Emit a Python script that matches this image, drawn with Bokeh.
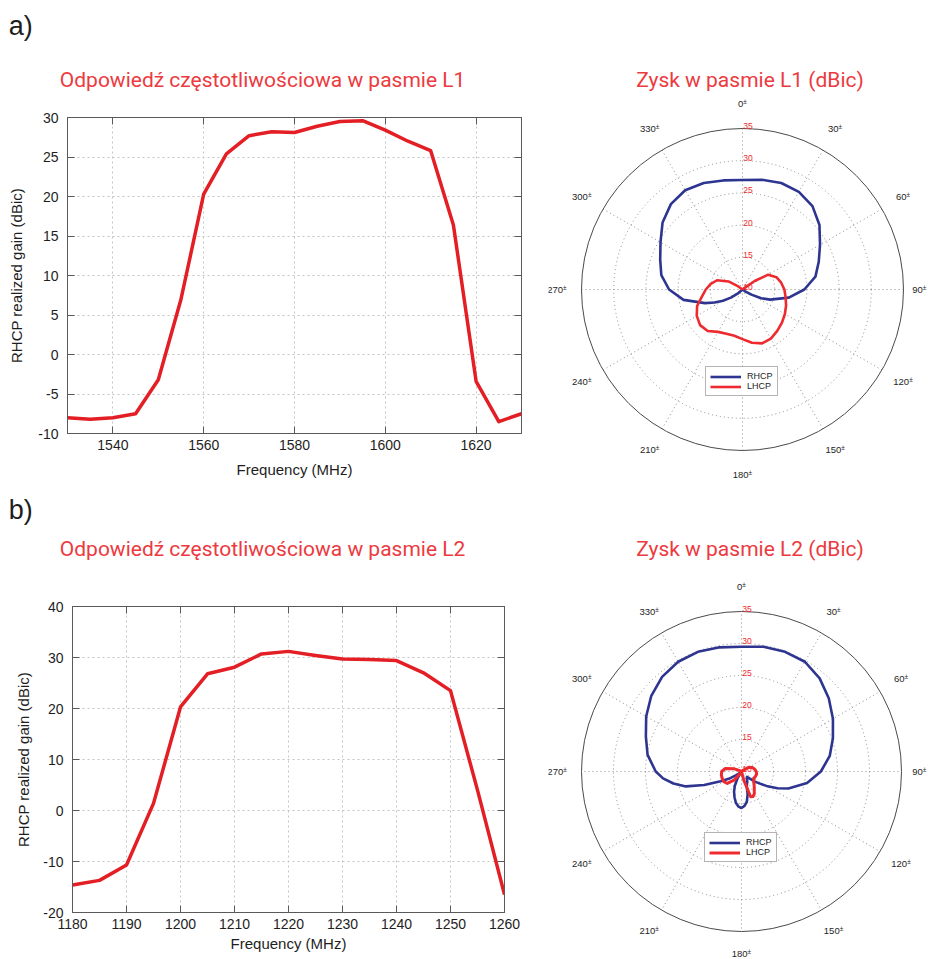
import numpy as np
from bokeh.plotting import figure
from bokeh.layouts import column, row
from bokeh.models import Range1d, LinearAxis, FixedTicker, Legend, LegendItem
from bokeh.embed import file_html
from bokeh.resources import INLINE
from bokeh.core.properties import value

# ---------------- data ----------------
L1_FREQ = [1530, 1535, 1540, 1545, 1550, 1555, 1560, 1565, 1570, 1575, 1580,
           1585, 1590, 1595, 1600, 1605, 1610, 1615, 1620, 1625, 1630]
L1_GAIN = [-8.0, -8.2, -8.0, -7.5, -3.2, 7.0, 20.3, 25.4, 27.7, 28.2, 28.1,
           28.9, 29.5, 29.6, 28.4, 27.0, 25.8, 16.4, -3.4, -8.5, -7.5]
L1_XTICKS = [1540, 1560, 1580, 1600, 1620]
L1_YTICKS = [-10, -5, 0, 5, 10, 15, 20, 25, 30]
L1_YLABELS = ["-10", "-5", "0", "5", "10", "15", "20", "25", "30"]

L2_FREQ = [1180, 1185, 1190, 1195, 1200, 1205, 1210, 1215, 1220, 1225, 1230,
           1235, 1240, 1245, 1250, 1255, 1260]
L2_GAIN = [-14.6, -13.7, -10.7, 1.4, 20.3, 26.8, 28.1, 30.7, 31.2, 30.4, 29.7,
           29.6, 29.4, 27.0, 23.5, 4.0, -16.5]
L2_XTICKS = [1180, 1190, 1200, 1210, 1220, 1230, 1240, 1250, 1260]
L2_YTICKS = [-20, -10, 0, 10, 20, 30, 40]
L2_YLABELS = ["-20", "-10", "0", "10", "20", "30", "40"]

# polar patterns (angle in degrees clockwise from top, gain in dBic)
P1_RHCP_ANG = [0, 10, 20, 30, 40, 50, 60, 70, 80, 90, 100, 110, 115, 120, 125, 130,
               140, 150, 160, 170, 180, 190, 200, 210, 220, 225, 230, 235, 240, 245,
               250, 260, 270, 280, 290, 300, 310, 320, 330, 340, 350]
P1_RHCP_DB = [27.0, 27.3, 27.6, 27.5, 26.9, 25.6, 23.9, 22.6, 21.5, 19.6, 17.3, 14.6,
              13.2, 11.6, 10.5, 9.5, 8.0, 6.5, 5.5, 5.0, 5.0, 5.0, 5.5, 6.5, 8.5, 10.0,
              11.0, 12.2, 13.5, 14.8, 16.2, 19.3, 21.4, 22.8, 23.6, 24.7, 26.2, 27.3,
              27.8, 27.6, 27.2]
P1_LHCP_ANG = [0, 10, 20, 30, 40, 50, 55, 60, 70, 80, 90, 100, 110, 120, 130, 140,
               150, 160, 170, 180, 190, 200, 210, 220, 230, 240, 250, 260, 270, 280,
               290, 300, 305, 310, 320, 330, 340, 350]
P1_LHCP_DB = [5.0, 5.5, 6.0, 7.0, 8.5, 10.2, 12.3, 14.6, 15.6, 16.1, 16.5, 16.8, 17.2,
              17.6, 18.0, 18.4, 18.8, 18.9, 18.4, 17.7, 17.3, 17.3, 17.6, 18.4, 18.6,
              18.2, 17.5, 16.4, 15.7, 15.0, 14.2, 12.5, 11.0, 9.7, 8.0, 7.0, 6.0, 5.5]

P2_RHCP_ANG = [0, 10, 20, 30, 40, 50, 60, 70, 80, 90, 100, 110, 115, 120, 127, 135,
               140, 150, 160, 165, 170, 175, 180, 185, 190, 195, 200, 205, 210, 215,
               220, 225, 230, 235, 240, 245, 250, 255, 260, 265, 270, 280, 290, 300,
               310, 320, 330, 340, 350]
P2_RHCP_DB = [29.5, 29.8, 29.9, 29.8, 29.0, 27.8, 26.5, 25.2, 24.0, 22.4, 20.4, 17.8,
              16.2, 14.5, 12.7, 11.2, 11.3, 11.8, 12.4, 13.7, 14.8, 15.4, 15.7, 15.5,
              15.0, 14.2, 13.4, 12.5, 11.3, 10.2, 9.0, 9.5, 10.3, 11.0, 12.3, 13.6,
              16.2, 19.0, 20.8, 22.3, 23.4, 24.9, 25.9, 27.2, 28.4, 29.3, 29.8, 29.9,
              29.7]
P2_LHCP_ANG = [0, 10, 20, 30, 40, 50, 60, 70, 80, 90, 100, 110, 120, 130, 140, 150,
               155, 160, 165, 170, 180, 190, 200, 210, 215, 220, 230, 240, 250, 260,
               270, 280, 290, 295, 300, 310, 320, 330, 340, 350]
P2_LHCP_DB = [7.0, 7.0, 7.5, 8.0, 9.0, 10.2, 11.3, 11.8, 12.1, 12.3, 12.4, 12.3, 12.2,
              12.5, 13.1, 14.0, 14.3, 14.2, 11.5, 8.5, 7.0, 7.0, 8.0, 9.5, 10.4, 11.7,
              12.9, 13.2, 13.2, 13.2, 13.1, 12.6, 11.2, 10.3, 9.6, 8.5, 8.0, 7.5, 7.0,
              7.0]

R_MIN, R_MAX = 10, 35
R_RINGS = [15, 20, 25, 30]
R_LABELS = [10, 15, 20, 25, 30, 35]
ANG_TICKS = [0, 30, 60, 90, 120, 150, 180, 210, 240, 270, 300, 330]
SERIES = ["RHCP", "LHCP"]

TAG_A, TAG_B = "a)", "b)"
TITLE_L1 = "Odpowiedź częstotliwościowa w pasmie L1"
TITLE_L2 = "Odpowiedź częstotliwościowa w pasmie L2"
TITLE_P1 = "Zysk w pasmie L1 (dBic)"
TITLE_P2 = "Zysk w pasmie L2 (dBic)"

# ---------------- styles ----------------
LINE_RED = "#e31e24"
TITLE_RED = "#ec3a40"
BLUE = "#2e3590"
PRED = "#ee2a2e"
AX = "#5a5a5a"
TXT = "#1e1e1e"
GRID = "#c4c4c4"
SANS = "Liberation Sans"
TFONT = "Roboto"
TSIZE = "21px"
W = 928


def base_fig(width, height, xr, yr, **kw):
    return figure(width=width, height=height, x_range=xr, y_range=yr,
                  output_backend="svg", toolbar_location=None, title=None,
                  frame_align=False, **kw)


def strip(height, items):
    p = base_fig(W, height, Range1d(0, W), Range1d(height, 0),
                 x_axis_type=None, y_axis_type=None, min_border=0)
    p.outline_line_color = None
    for x, y, t, font, size, color, align in items:
        p.text(x=[x], y=[y], text=[t], text_font=value(font), text_font_size=size,
               text_color=color, text_align=align, text_baseline="middle")
    return p


def line_panel(freq, gain, xr, yr, xt, yt, ytl, width, height, mb, x_std, y_std):
    p = base_fig(width, height, Range1d(*xr), Range1d(*yr),
                 min_border_left=mb[0], min_border_right=mb[1],
                 min_border_top=mb[2], min_border_bottom=mb[3])
    p.outline_line_color = AX
    p.outline_line_width = 1
    p.line(freq, gain, line_color=LINE_RED, line_width=3.5, line_join="round")
    xa, ya = p.xaxis[0], p.yaxis[0]
    xa.ticker = FixedTicker(ticks=xt)
    ya.ticker = FixedTicker(ticks=yt)
    ya.major_label_overrides = {t: s for t, s in zip(yt, ytl)}
    for ax in (xa, ya):
        ax.major_tick_in = 7
        ax.major_tick_out = 0
        ax.minor_tick_line_color = None
        ax.axis_line_color = AX
        ax.major_tick_line_color = AX
        ax.major_label_text_font = SANS
        ax.major_label_text_font_size = "14px"
        ax.major_label_text_color = TXT
        ax.axis_label_text_font = SANS
        ax.axis_label_text_font_size = "15px"
        ax.axis_label_text_font_style = "normal"
        ax.axis_label_text_color = TXT
    xa.axis_label = "Frequency (MHz)"
    ya.axis_label = "RHCP realized gain (dBic)"
    xa.major_label_standoff = 6
    xa.axis_label_standoff = x_std
    ya.major_label_standoff = 9
    ya.axis_label_standoff = y_std
    for loc, ticks in (("above", xt), ("right", yt)):
        ax = LinearAxis(ticker=FixedTicker(ticks=ticks),
                        major_label_overrides={t: "" for t in ticks},
                        major_tick_in=7, major_tick_out=0, minor_tick_line_color=None,
                        axis_line_color=AX, major_tick_line_color=AX,
                        major_label_standoff=0)
        p.add_layout(ax, loc)
    p.xgrid.grid_line_color = GRID
    p.xgrid.grid_line_dash = "2 3"
    p.ygrid.grid_line_color = GRID
    p.ygrid.grid_line_dash = "2 3"
    return p


def to_xy(angles, gains):
    th = np.radians(np.array(angles + angles[:1], dtype=float))
    r = np.clip(np.array(gains + gains[:1], dtype=float) - R_MIN, 0, R_MAX - R_MIN)
    return r * np.sin(th), r * np.cos(th)


def polar_panel(rh, lh, width, height, cx, cy, rad, leg_loc, lw):
    span = R_MAX - R_MIN
    s = rad / span  # px per dB
    p = base_fig(width, height,
                 Range1d(-cx / s, (width - cx) / s),
                 Range1d(-(height - cy) / s, cy / s),
                 x_axis_type=None, y_axis_type=None, min_border=0)
    p.outline_line_color = None
    rr = [v - R_MIN for v in R_RINGS]
    p.circle(x=[0] * len(rr), y=[0] * len(rr), radius=rr, fill_color=None,
             line_color="#8c8c8c", line_dash="1 3", line_width=1)
    th = np.radians(ANG_TICKS)
    p.segment(x0=0, y0=0, x1=span * np.sin(th), y1=span * np.cos(th),
              line_color="#8c8c8c", line_dash="1 3", line_width=1)
    p.circle(x=[0], y=[0], radius=[span], fill_color=None, line_color="#4a4a4a",
             line_width=1)
    p.text(x=[0.7 / s] * len(R_LABELS), y=[v - R_MIN + 2.6 / s for v in R_LABELS],
           text=[str(v) for v in R_LABELS], text_font=value(SANS),
           text_font_size="8.5px", text_color=PRED, text_align="left",
           text_baseline="alphabetic")
    fs, fs2 = 9.5, 6.5
    rl = 1.152 * span
    ax_, ay_, txt = [], [], []
    for a in ANG_TICKS:
        t = np.radians(a)
        wn = len(str(a)) * 0.556 * fs
        wp = 0.584 * fs2
        px = cx + rl * np.sin(t) * s          # label centre in canvas px
        py = cy - rl * np.cos(t) * s
        px = min(px, width - 2 - (wn + wp) / 2)   # keep label inside the canvas
        py = min(py, height - 6)
        ax_.append((px - cx) / s + (-(wn + wp) / 2 + wn) / s)
        ay_.append((cy - py) / s)
        txt.append(str(a))
    p.text(x=ax_, y=ay_, text=txt, text_font=value(SANS), text_font_size=f"{fs}px",
           text_color=TXT, text_align="right", text_baseline="middle")
    p.text(x=ax_, y=[y + 2.5 / s for y in ay_], text=["\u00b1"] * len(ax_),
           text_font=value(SANS), text_font_size=f"{fs2}px", text_color=TXT,
           text_align="left", text_baseline="middle")
    xb, yb = to_xy(*rh)
    xr_, yr_ = to_xy(*lh)
    rb = p.line(xb, yb, line_color=BLUE, line_width=lw[0], line_join="round")
    rl_ = p.line(xr_, yr_, line_color=PRED, line_width=lw[1], line_join="round")
    leg = Legend(items=[LegendItem(label=SERIES[0], renderers=[rb]),
                        LegendItem(label=SERIES[1], renderers=[rl_])],
                 location=leg_loc, margin=0, padding=4, spacing=0,
                 glyph_width=31, glyph_height=9, label_height=9, label_standoff=6,
                 label_text_font=SANS, label_text_font_size="9px", label_text_color=TXT,
                 border_line_color="#6a6a6a", border_line_width=1,
                 background_fill_color="white", background_fill_alpha=1.0)
    p.add_layout(leg)
    return p


sa = strip(96, [(8.3, 25.0, TAG_A, SANS, "27px", TXT, "left"),
                (59.3, 79.0, TITLE_L1, TFONT, TSIZE, TITLE_RED, "left"),
                (749.5, 79.0, TITLE_P1, TFONT, TSIZE, TITLE_RED, "center")])
pa = line_panel(L1_FREQ, L1_GAIN, (1530, 1630), (-10, 30), L1_XTICKS, L1_YTICKS, L1_YLABELS,
                548, 392, (67, 27, 21, 55), 8, 10)
qa = polar_panel((P1_RHCP_ANG, P1_RHCP_DB), (P1_LHCP_ANG, P1_LHCP_DB), 380, 392,
                 194, 193, 161, (157, 92), (2.6, 2.6))
sb = strip(87, [(8.3, 21.5, TAG_B, SANS, "27px", TXT, "left"),
                (59.3, 60.0, TITLE_L2, TFONT, TSIZE, TITLE_RED, "left"),
                (749.5, 60.0, TITLE_P2, TFONT, TSIZE, TITLE_RED, "center")])
pb = line_panel(L2_FREQ, L2_GAIN, (1180, 1260), (-20, 40), L2_XTICKS, L2_YTICKS, L2_YLABELS,
                548, 384, (72, 44, 31, 47), 3, 8)
qb = polar_panel((P2_RHCP_ANG, P2_RHCP_DB), (P2_LHCP_ANG, P2_LHCP_DB), 380, 384,
                 193, 196, 160, (156, 97), (2.6, 3.0))

layout = column(sa, row(pa, qa), sb, row(pb, qb))
open("out.html", "w").write(file_html(layout, INLINE))
